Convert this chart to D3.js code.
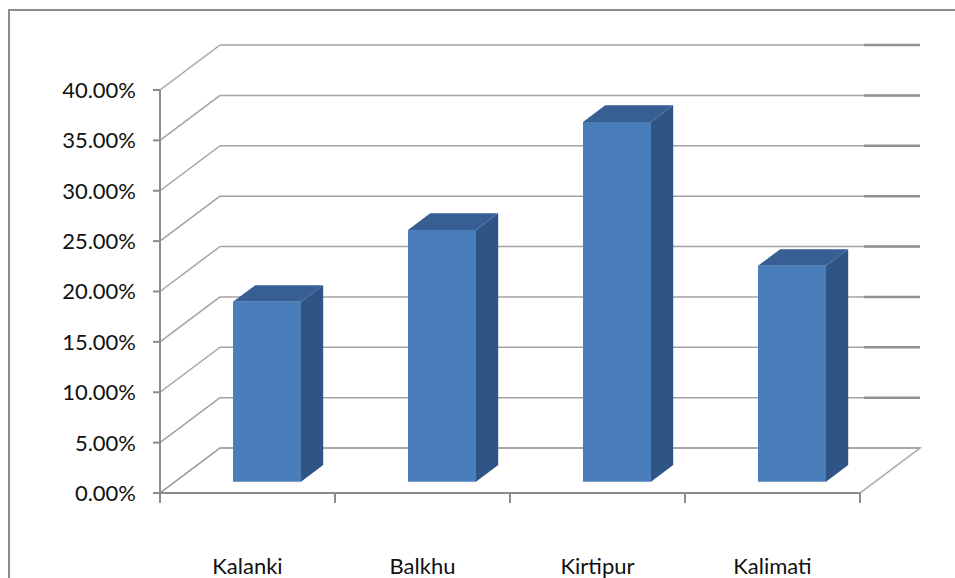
<!DOCTYPE html>
<html>
<head>
  <meta charset="utf-8">
  <title>bars 3d</title>
  <script src="https://cdnjs.cloudflare.com/ajax/libs/d3/7.8.5/d3.min.js"></script>
  <style>
    body { margin: 0; background: #fff; }
    text { font-family: Lato, "Open Sans", sans-serif; }
  </style>
</head>
<body>
<script>
var width = 955, height = 578;

// data
var places = ["Kalanki", "Balkhu", "Kirtipur", "Kalimati"];
var shares = [0.1786, 0.25, 0.3571, 0.2143];
var ticks = [0, 0.05, 0.10, 0.15, 0.20, 0.25, 0.30, 0.35, 0.40];

var svg = d3.select("body").append("svg").attr("width", width).attr("height", height);

// chart border (runs off right and bottom)
svg.append("rect")
   .attr("x", 9).attr("y", 10).attr("width", 980).attr("height", 600)
   .attr("fill", "none").attr("stroke", "#8c8c8c").attr("stroke-width", 2);

var x = d3.scaleBand().domain(places).range([160, 860]);
var y = d3.scaleLinear().domain([0, 0.40]).range([493, 90]);

// depth of the box: going back moves right and up
var depthX = 60, depthY = -45;
function pt(px, py, f) { return [px + depthX * f, py + depthY * f]; }
function poly(pts) { return pts.map(function(p) { return p.join(","); }).join(" "); }

var grid = svg.append("g");
var gridColor = "#a3a3a3";

// floor
grid.append("polygon")
   .attr("points", poly([pt(160, y(0), 0), pt(860, y(0), 0), pt(860, y(0), 1), pt(160, y(0), 1)]))
   .attr("fill", "#fff").attr("stroke", gridColor).attr("stroke-width", 1.5);

// side wall diagonals + back wall gridlines
ticks.forEach(function(t) {
  var a = pt(160, y(t), 0), b = pt(160, y(t), 1), c = pt(860, y(t), 1);
  grid.append("line")
     .attr("x1", a[0]).attr("y1", a[1]).attr("x2", b[0]).attr("y2", b[1])
     .attr("stroke", gridColor).attr("stroke-width", 1.5);
  grid.append("line")
     .attr("x1", b[0]).attr("y1", b[1]).attr("x2", c[0]).attr("y2", c[1])
     .attr("stroke", gridColor).attr("stroke-width", 1.5);
  if (t > 0) {
    grid.append("line")
       .attr("x1", c[0] - 56).attr("y1", c[1]).attr("x2", c[0]).attr("y2", c[1])
       .attr("stroke", "#919191").attr("stroke-width", 2.5);
  }
});

// y axis
var ax = svg.append("g");
ax.append("line")
   .attr("x1", 160).attr("y1", y(0.40)).attr("x2", 160).attr("y2", y(0))
   .attr("stroke", "#8c8c8c").attr("stroke-width", 2);
ticks.forEach(function(t) {
  ax.append("line")
     .attr("x1", 153).attr("y1", y(t)).attr("x2", 160).attr("y2", y(t))
     .attr("stroke", "#8c8c8c").attr("stroke-width", 2);
  ax.append("text")
     .attr("x", 136).attr("y", y(t)).attr("dy", "0.36em")
     .attr("text-anchor", "end").attr("font-size", 22).attr("fill", "#111")
     .text(d3.format(".2%")(t));
});

// x axis
ax.append("line")
   .attr("x1", 160).attr("y1", y(0)).attr("x2", 860).attr("y2", y(0))
   .attr("stroke", "#8c8c8c").attr("stroke-width", 2);
x.domain().concat([null]).forEach(function(d, i) {
  var xx = 160 + i * x.bandwidth();
  ax.append("line")
     .attr("x1", xx).attr("y1", y(0)).attr("x2", xx).attr("y2", y(0) + 10)
     .attr("stroke", "#8c8c8c").attr("stroke-width", 2);
});
places.forEach(function(d) {
  ax.append("text")
     .attr("x", x(d) + x.bandwidth() / 2).attr("y", 566).attr("dy", "0.36em")
     .attr("text-anchor", "middle").attr("font-size", 22).attr("fill", "#111")
     .text(d);
});

// bars
var f0 = 0.25, f1 = 0.62, barW = 68, barOff = 58;
var bars = svg.append("g");
places.forEach(function(d, i) {
  var x0 = x(d) + barOff, x1 = x0 + barW;
  var yt = y(shares[i]), yb = y(0);
  var ftl = pt(x0, yt, f0), ftr = pt(x1, yt, f0), fbr = pt(x1, yb, f0), fbl = pt(x0, yb, f0);
  var btl = pt(x0, yt, f1), btr = pt(x1, yt, f1), bbr = pt(x1, yb, f1);
  bars.append("polygon").attr("points", poly([ftr, btr, bbr, fbr])).attr("fill", "#2f5486");
  bars.append("polygon").attr("points", poly([ftl, btl, btr, ftr])).attr("fill", "#375f93");
  bars.append("polygon").attr("points", poly([ftl, ftr, fbr, fbl])).attr("fill", "#4a7ebb");
});
</script>
</body>
</html>
